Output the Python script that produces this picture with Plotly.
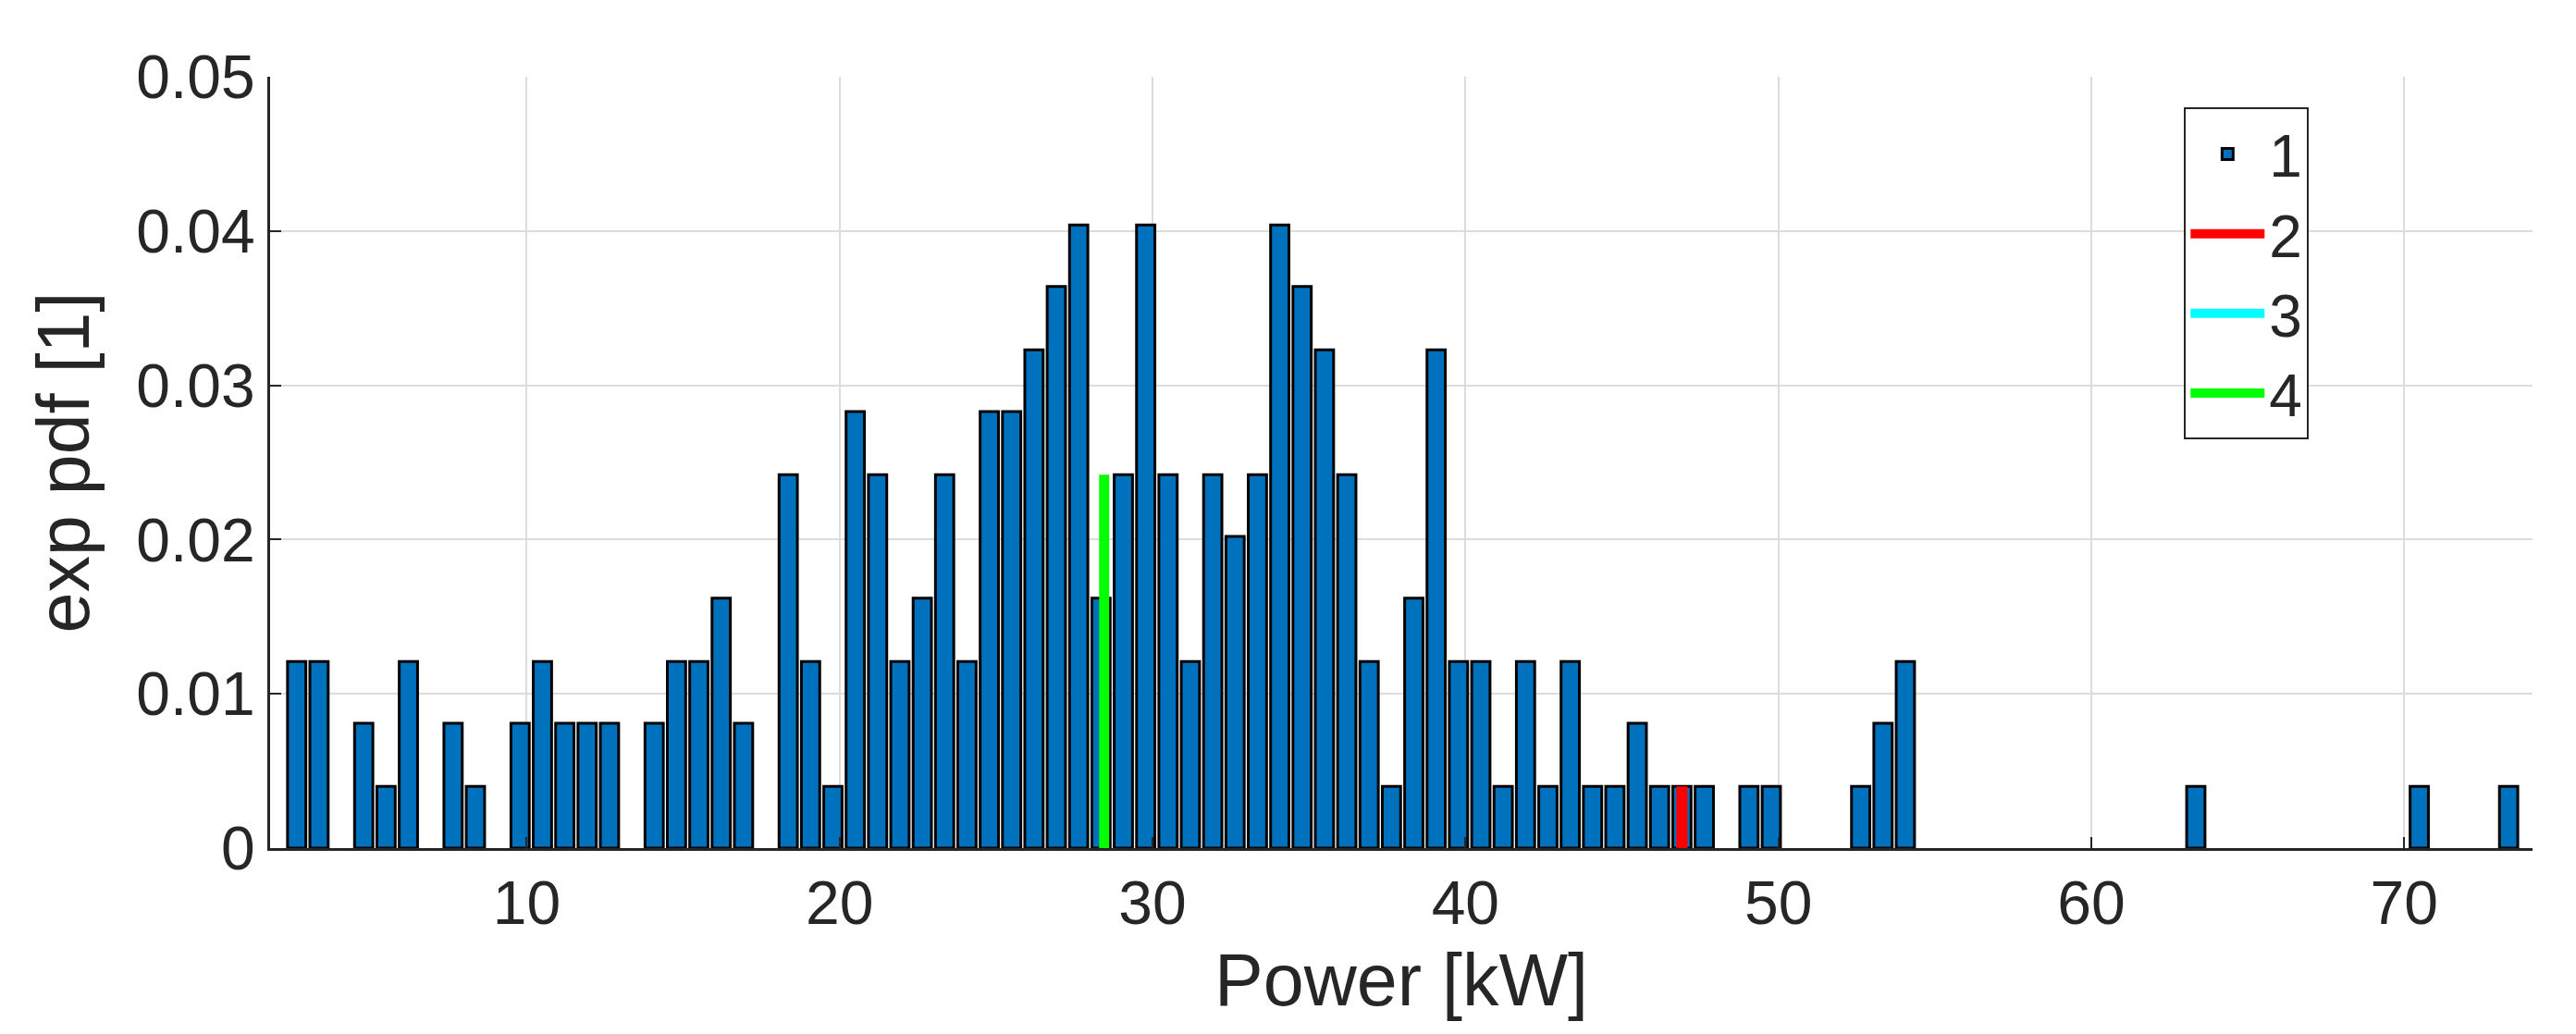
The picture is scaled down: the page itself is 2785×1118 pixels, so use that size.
import plotly.graph_objects as go

bin_start = 2.65
bin_width = 0.714
bin_index = [0,1,3,4,5,7,8,10,11,12,13,14,16,17,18,19,20,22,23,24,25,26,27,28,29,30,
             31,32,33,34,35,36,37,38,39,40,41,42,43,44,45,46,47,48,49,50,51,52,53,54,
             55,56,57,58,59,60,61,62,63,65,66,70,71,72,85,95,99]
pdf_vals = [0.0121,0.0121,0.0081,0.0040,0.0121,0.0081,0.0040,0.0081,0.0121,0.0081,0.0081,0.0081,
            0.0081,0.0121,0.0121,0.0162,0.0081,0.0242,0.0121,0.0040,0.0283,0.0242,0.0121,0.0162,
            0.0242,0.0121,0.0283,0.0283,0.0323,0.0364,0.0404,0.0162,0.0242,0.0404,0.0242,0.0121,
            0.0242,0.0202,0.0242,0.0404,0.0364,0.0323,0.0242,0.0121,0.0040,0.0162,0.0323,0.0121,
            0.0121,0.0040,0.0121,0.0040,0.0121,0.0040,0.0040,0.0081,0.0040,0.0040,0.0040,0.0040,
            0.0040,0.0040,0.0081,0.0121,0.0040,0.0040,0.0040]
red_index = [62]
red_vals = [0.0040]
green_index = [36]
green_vals = [0.0242]
legend_names = ["1", "2", "3", "4"]

xs = [bin_start + i * bin_width for i in bin_index]
xr = [bin_start + i * bin_width for i in red_index]
xg = [bin_start + i * bin_width + 0.1 for i in green_index]

font = dict(family="Liberation Sans, Arial", size=66, color="#262626")

fig = go.Figure()
fig.add_trace(go.Bar(x=xs, y=pdf_vals, width=bin_width * 0.82, name=legend_names[0],
                     marker=dict(color="#0072BD", line=dict(color="black", width=3))))
fig.add_trace(go.Bar(x=xr, y=red_vals, width=bin_width * 0.5, showlegend=False,
                     marker=dict(color="#FF0000", line=dict(width=0))))
fig.add_trace(go.Bar(x=xg, y=green_vals, width=bin_width * 0.45, showlegend=False,
                     marker=dict(color="#00FF00", line=dict(width=0))))
for name, col in zip(legend_names[1:], ["#FF0000", "#00FFFF", "#00FF00"]):
    fig.add_trace(go.Scatter(x=[None], y=[None], mode="lines", name=name,
                             line=dict(color=col, width=12)))

fig.update_layout(
    width=2785, height=1118, barmode="overlay",
    paper_bgcolor="white", plot_bgcolor="white",
    margin=dict(l=284, r=55, t=75, b=209),
    font=font,
    legend=dict(x=0.846, y=0.96, xanchor="left", yanchor="top",
                bordercolor="#262626", borderwidth=2, bgcolor="white",
                font=dict(size=64), tracegroupgap=0, itemwidth=80),
    xaxis=dict(range=[1.8, 74.1], tickvals=[10, 20, 30, 40, 50, 60, 70],
               showgrid=True, gridcolor="#DCDCDC", gridwidth=2,
               showline=True, linecolor="#262626", linewidth=3,
               ticks="inside", ticklen=12, tickcolor="#262626", tickwidth=2,
               zeroline=False, title=dict(text="Power [kW]", standoff=20)),
    yaxis=dict(range=[0, 0.05], tickvals=[0, 0.01, 0.02, 0.03, 0.04, 0.05],
               ticktext=["0", "0.01", "0.02", "0.03", "0.04", "0.05"],
               showgrid=True, gridcolor="#DCDCDC", gridwidth=2,
               showline=True, linecolor="#262626", linewidth=3,
               ticks="inside", ticklen=12, tickcolor="#262626", tickwidth=2,
               zeroline=False, title=dict(text="exp pdf [1]", standoff=25)),
)
fig.write_html("out.html")
